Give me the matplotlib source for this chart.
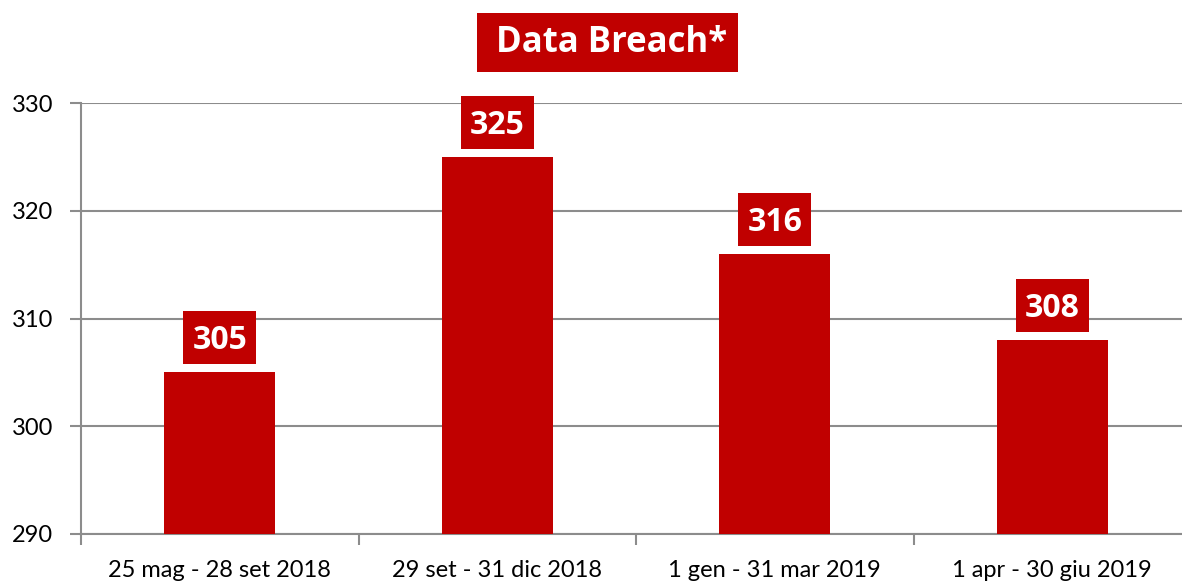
import numpy as np
import matplotlib
matplotlib.use("Agg")
import matplotlib.pyplot as plt
import matplotlib.transforms as mtransforms
from matplotlib.patches import Rectangle

plt.rcParams['font.family'] = ['Lato', 'DejaVu Sans']

categories = ["25 mag - 28 set 2018", "29 set - 31 dic 2018",
              "1 gen - 31 mar 2019", "1 apr - 30 giu 2019"]
values = [305, 325, 316, 308]
title = "Data Breach*"

red = "#C00000"
grey = "#8C8C8C"

W, H = 1182, 581
fig = plt.figure(figsize=(W / 100, H / 100), dpi=100)
# axes run slightly past the right edge, like the source image
ax = fig.add_axes([81 / W, (H - 534) / H, (1191 - 81) / W, (534 - 103) / H])

x = np.arange(len(categories))
ax.bar(x, np.array(values) - 290, bottom=290, width=0.4, color=red, zorder=3)

ax.set_xlim(-0.5, len(categories) - 0.5)
ax.set_ylim(290, 330)
ax.set_yticks([290, 300, 310, 320, 330])
ax.yaxis.grid(True, color=grey, linewidth=1.5, zorder=0)

ax.set_xticks(x)
ax.set_xticklabels(categories, fontsize=17)
ax.set_xticks(np.arange(len(categories) + 1) - 0.5, minor=True)
ax.tick_params(axis='x', which='major', length=0, pad=19)
ax.tick_params(axis='x', which='minor', length=8, width=1.5, color=grey)
ax.tick_params(axis='y', length=8, width=1.5, color=grey, labelsize=17, pad=12)

for s in ['top', 'right']:
    ax.spines[s].set_visible(False)
for s in ['left', 'bottom']:
    ax.spines[s].set_color(grey)
    ax.spines[s].set_linewidth(1.5)

# value labels in red boxes (box sized in inches, anchored at bar top)
for xi, v in zip(x, values):
    tr = fig.dpi_scale_trans + mtransforms.ScaledTranslation(xi, v, ax.transData)
    ax.add_patch(Rectangle((-0.365, 0.08), 0.73, 0.53, transform=tr,
                           fc=red, ec='none', zorder=4, clip_on=False))
    ax.text(0, 0.23, str(v), transform=tr, ha='center', va='baseline',
            fontsize=23, fontweight='bold', color='white', zorder=5,
            family=['Open Sans', 'DejaVu Sans'])

fig.patches.append(Rectangle((477 / W, 1 - 72 / H), 261 / W, 59 / H,
                             transform=fig.transFigure, fc=red, ec='none'))
fig.text(612 / W, 1 - 52 / H, title, ha='center', va='baseline', fontsize=25,
         fontweight='bold', color='white', family=['Open Sans', 'DejaVu Sans'])

fig.savefig("out.png", dpi=100)
